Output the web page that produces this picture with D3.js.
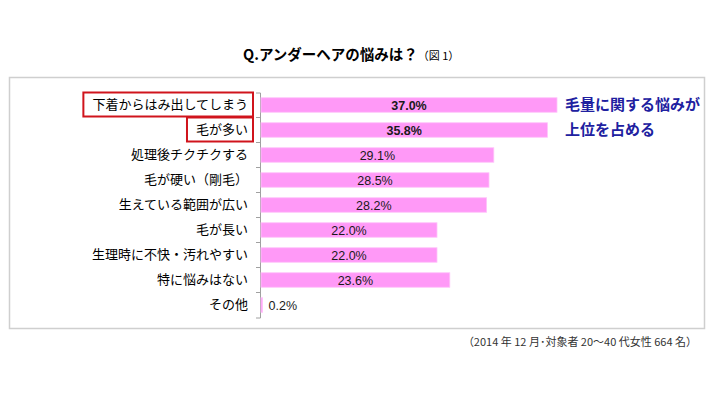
<!DOCTYPE html>
<html><head><meta charset="utf-8">
<script src="https://cdn.jsdelivr.net/npm/d3@7"></script>
<style>
html,body{margin:0;padding:0;background:#fff;}
svg{display:block;font-family:"Noto Sans CJK JP","Noto Sans",sans-serif;}
</style></head>
<body>
<svg id="chart" width="715" height="400"></svg>
<script>
const categories = ["下着からはみ出してしまう","毛が多い","処理後チクチクする","毛が硬い（剛毛）","生えている範囲が広い","毛が長い","生理時に不快・汚れやすい","特に悩みはない","その他"];
const values = [37.0, 35.8, 29.1, 28.5, 28.2, 22.0, 22.0, 23.6, 0.2];
const valueLabels = ["37.0%","35.8%","29.1%","28.5%","28.2%","22.0%","22.0%","23.6%","0.2%"];
const boldValues = ["37.0%","35.8%"];
const highlighted = ["下着からはみ出してしまう","毛が多い"];
const titleText = "Q.アンダーヘアの悩みは？";
const titleNote = "（図 1）";
const noteLines = ["毛量に関する悩みが","上位を占める"];
const footnote = "（2014 年 12 月･対象者 20～40 代女性 664 名）";

const svg = d3.select("#chart");

// frame
svg.append("rect").attr("x",9.5).attr("y",77.5).attr("width",695).attr("height",251)
  .attr("fill","none").attr("stroke","#cfcfcf").attr("stroke-width",1.5);

// title
const t = svg.append("text").attr("x",243).attr("y",60).attr("fill","#000");
t.append("tspan").attr("font-size",14.5).attr("font-weight","bold").text(titleText);
t.append("tspan").attr("font-size",11).text(titleNote);

const x0 = 261;
const x = d3.scaleLinear().domain([0,37]).range([x0, 557]);
const y = d3.scaleBand().domain(categories).range([92.5, 317.5]).paddingInner(0.42).paddingOuter(0.21);

// axis
const axis = d3.axisLeft(y).tickSizeInner(0).tickSizeOuter(4).tickPadding(12);
const ag = svg.append("g").attr("transform",`translate(${x0-1},0)`).call(axis);
ag.select(".domain").attr("stroke","#a0a0a0");
ag.selectAll(".tick text").attr("font-size",13).attr("fill","#000")
  .attr("font-family",'"Noto Sans CJK JP",sans-serif');
// boundary ticks
const step = y.step();
const bounds = d3.range(1, categories.length).map(i => y.range()[0] + i*step);
ag.selectAll(".btick").data(bounds).join("line").attr("class","btick")
  .attr("x1",-4).attr("x2",0).attr("y1",d=>d).attr("y2",d=>d).attr("stroke","#a0a0a0");

// highlight boxes
ag.selectAll(".tick").each(function(d){
  if(highlighted.includes(d)){
    const txt = d3.select(this).select("text").node();
    const bb = txt.getBBox();
    d3.select(this).insert("rect","text")
      .attr("x", bb.x-9).attr("y", -12.5).attr("width", bb.width+14).attr("height",24)
      .attr("fill","none").attr("stroke","#d0141c").attr("stroke-width",2);
  }
});

// bars
svg.selectAll(".bar").data(values).join("rect").attr("class","bar")
  .attr("x", x0).attr("y",(d,i)=>y(categories[i]))
  .attr("width", d=>x(d)-x0).attr("height", y.bandwidth())
  .attr("fill","#ff99f7").attr("stroke","#ffc4fb").attr("stroke-width",0.8);

// value labels
svg.selectAll(".vl").data(values).join("text").attr("class","vl")
  .attr("x",(d,i)=> d < 3 ? x(d)+6 : (x0+x(d))/2)
  .attr("y",(d,i)=>y(categories[i])+y.bandwidth()/2)
  .attr("dy","0.36em")
  .attr("text-anchor",d=> d<3 ? "start":"middle")
  .attr("font-size",12.5)
  .attr("font-family",'Arial,"Liberation Sans",sans-serif')
  .attr("font-weight",(d,i)=> boldValues.includes(valueLabels[i]) ? "bold":"normal")
  .attr("fill","#1a1a1a")
  .text((d,i)=>valueLabels[i]);

// annotation
svg.selectAll(".note").data(noteLines).join("text").attr("class","note")
  .attr("x",565).attr("y",(d,i)=>y(categories[i])+y.bandwidth()/2)
  .attr("dy","0.36em").attr("font-size",15).attr("font-weight","bold")
  .attr("fill","#2020a0").text(d=>d);

// footnote
svg.append("text").attr("x",697).attr("y",346).attr("text-anchor","end")
  .attr("font-size",11).attr("fill","#333").text(footnote);
</script>
</body></html>
